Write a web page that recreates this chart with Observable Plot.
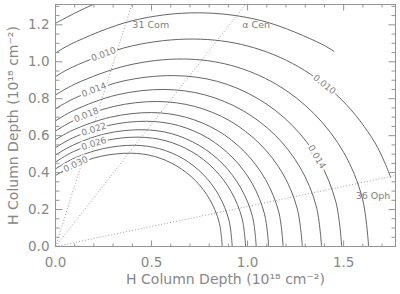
<!DOCTYPE html>
<html><head><meta charset="utf-8">
<script src="https://cdn.jsdelivr.net/npm/d3@7"></script>
<script src="https://cdn.jsdelivr.net/npm/@observablehq/plot@0.6"></script>
<style>body{margin:0;background:#fff} #chart{width:400px;height:294px}</style>
</head><body><div id="chart"></div>
<script>
// Contour levels and their traced points [x, y] (units of 1e18 cm^-2)
const levels = ["0.006","0.008","0.010","0.012","0.014","0.016","0.018","0.020","0.022","0.024","0.026","0.028","0.030"];
const c006 = [[0,1.208],[0.1,1.263],[0.2,1.312],[0.3,1.355]];
const c008 = [[0,1.047],[0.081,1.096],[0.399,1.222],[0.74,1.265],[1.074,1.222],[1.385,1.096],[1.45,1.056]];
const c010 = [[0,0.92],[0.092,0.973],[0.395,1.085],[0.72,1.123],[1.002,1.085],[1.265,0.973],[1.49,0.794],[1.663,0.562],[1.745,0.375]];
const c012 = [[0,0.82],[0.101,0.879],[0.373,0.980],[0.665,1.015],[0.915,0.980],[1.148,0.879],[1.347,0.718],[1.501,0.508],[1.597,0.263],[1.63,0]];
const c014 = [[0,0.745],[0.096,0.801],[0.346,0.894],[0.615,0.925],[0.842,0.894],[1.053,0.801],[1.234,0.654],[1.373,0.463],[1.460,0.239],[1.49,0]];
const c016 = [[0,0.68],[0.094,0.736],[0.321,0.821],[0.565,0.85],[0.777,0.821],[0.975,0.736],[1.145,0.601],[1.275,0.425],[1.357,0.22],[1.385,0]];
const c018 = [[0,0.625],[0.092,0.680],[0.303,0.758],[0.53,0.785],[0.725,0.758],[0.908,0.680],[1.064,0.555],[1.184,0.393],[1.259,0.203],[1.285,0]];
const c020 = [[0,0.578],[0.086,0.628],[0.286,0.700],[0.5,0.725],[0.677,0.700],[0.843,0.628],[0.984,0.513],[1.093,0.363],[1.162,0.188],[1.185,0]];
const c022 = [[0,0.535],[0.088,0.587],[0.275,0.655],[0.475,0.678],[0.639,0.655],[0.793,0.587],[0.924,0.479],[1.025,0.339],[1.088,0.176],[1.11,0]];
const c024 = [[0,0.495],[0.088,0.547],[0.263,0.611],[0.45,0.632],[0.604,0.611],[0.748,0.547],[0.871,0.447],[0.965,0.316],[1.025,0.164],[1.045,0]];
const c026 = [[0,0.457],[0.092,0.513],[0.255,0.572],[0.43,0.592],[0.575,0.572],[0.71,0.513],[0.826,0.419],[0.915,0.296],[0.971,0.153],[0.99,0]];
const c028 = [[0,0.42],[0.091,0.475],[0.245,0.529],[0.41,0.548],[0.542,0.529],[0.665,0.475],[0.771,0.388],[0.852,0.274],[0.903,0.142],[0.92,0]];
const c030 = [[0,0.384],[0.09,0.437],[0.235,0.488],[0.39,0.505],[0.514,0.488],[0.629,0.437],[0.728,0.357],[0.804,0.253],[0.852,0.131],[0.868,0]];
const contourPoints = [c006,c008,c010,c012,c014,c016,c018,c020,c022,c024,c026,c028,c030];

// Contour labels
const labelText  = ["0.010","0.014","0.018","0.022","0.026","0.030","0.010","0.014"];
const labelX     = [0.25, 0.20, 0.16, 0.20, 0.20, 0.105, 1.40, 1.36];
const labelY     = [1.041, 0.848, 0.712, 0.634, 0.557, 0.445, 0.877, 0.485];
const labelAngle = [-20, -21, -22, -18, -17, -26, 38, 59];

// Sight lines to stars
const starNames  = ["31 Com", "\u03b1 Cen", "36 Oph"];
const starEndX   = [0.397, 0.989, 1.77];
const starEndY   = [1.31, 1.31, 0.384];
const starLabelX = [0.40, 0.972, 1.5625];
const starLabelY = [1.20, 1.20, 0.272];

// Axes
const xDomain = [0, 1.77];
const yDomain = [0, 1.31];
const xMajor = [0, 0.5, 1.0, 1.5];
const xMinor = [0.1,0.2,0.3,0.4,0.6,0.7,0.8,0.9,1.1,1.2,1.3,1.4,1.6,1.7];
const yMajor = [0, 0.2, 0.4, 0.6, 0.8, 1.0, 1.2];
const yMinor = [0.05,0.1,0.15,0.25,0.3,0.35,0.45,0.5,0.55,0.65,0.7,0.75,0.85,0.9,0.95,1.05,1.1,1.15,1.25,1.3];
const axisTitle = "H Column Depth (10\u00b9\u2078 cm\u207b\u00b2)";

const rows = levels.flatMap((lv, i) => contourPoints[i].map(([x, y]) => ({level: lv, x, y})));
const labels = labelText.map((t, i) => ({t, x: labelX[i], y: labelY[i], a: labelAngle[i]}));
const stars = starNames.map((n, i) => ({n, x2: starEndX[i], y2: starEndY[i], lx: starLabelX[i], ly: starLabelY[i]}));

const W = 400, H = 294, mL = 55, mR = 5, mT = 4, mB = 48;
const frameW = W - mL - mR, frameH = H - mT - mB;
const textColor = "#878787";
const frameColor = "#949494";

// inward tick lengths (pixels) converted to data units
const px2x = (xDomain[1] - xDomain[0]) / frameW;
const px2y = (yDomain[1] - yDomain[0]) / frameH;
const xTicks = [...xMajor.map(v => ({v, L: 6})), ...xMinor.map(v => ({v, L: 3}))];
const yTicks = [...yMajor.map(v => ({v, L: 7})), ...yMinor.map(v => ({v, L: 4}))];
const tickSegs = [
  ...xTicks.map(t => ({x1: t.v, x2: t.v, y1: yDomain[0], y2: yDomain[0] + t.L * px2y})),
  ...xTicks.map(t => ({x1: t.v, x2: t.v, y1: yDomain[1], y2: yDomain[1] - t.L * px2y})),
  ...yTicks.map(t => ({y1: t.v, y2: t.v, x1: xDomain[0], x2: xDomain[0] + t.L * px2x})),
  ...yTicks.map(t => ({y1: t.v, y2: t.v, x1: xDomain[1], x2: xDomain[1] - t.L * px2x}))
];

const chart = Plot.plot({
  width: W,
  height: H,
  marginLeft: mL,
  marginRight: mR,
  marginTop: mT,
  marginBottom: mB,
  x: {domain: xDomain},
  y: {domain: yDomain},
  style: {fontFamily: "DejaVu Sans", background: "white", color: textColor},
  marks: [
    Plot.link(stars, {x1: () => 0, y1: () => 0, x2: "x2", y2: "y2", stroke: "#a0a0a0", strokeWidth: 1, strokeDasharray: "1,2", clip: true}),
    Plot.line(rows, {x: "x", y: "y", z: "level", curve: "catmull-rom", stroke: "#666", strokeWidth: 1, clip: true}),
    Plot.text(labels, {x: "x", y: "y", text: "t", rotate: "a", fontSize: 9, fill: "#808080", stroke: "white", strokeWidth: 4}),
    Plot.text(stars, {x: "lx", y: "ly", text: "n", textAnchor: "start", fontSize: 9.5, fill: "#808080"}),
    Plot.link(tickSegs, {x1: "x1", y1: "y1", x2: "x2", y2: "y2", stroke: frameColor, strokeWidth: 1}),
    Plot.frame({stroke: frameColor}),
    Plot.axisX(xMajor, {anchor: "bottom", tickSize: 0, tickPadding: 11, tickFormat: d => d.toFixed(1), fontSize: 13.5, fill: textColor, label: null}),
    Plot.axisY(yMajor, {anchor: "left", tickSize: 0, tickPadding: 6, tickFormat: d => d.toFixed(1), fontSize: 13.5, fill: textColor, label: null}),
    Plot.text([axisTitle], {text: d => d, frameAnchor: "bottom", lineAnchor: "middle", textAnchor: "middle", dy: 33, fontSize: 14, fill: textColor}),
    Plot.text([axisTitle], {text: d => d, frameAnchor: "left", lineAnchor: "middle", textAnchor: "middle", dx: -42, rotate: -90, fontSize: 14, fill: textColor})
  ]
});
document.getElementById("chart").append(chart);
</script></body></html>
